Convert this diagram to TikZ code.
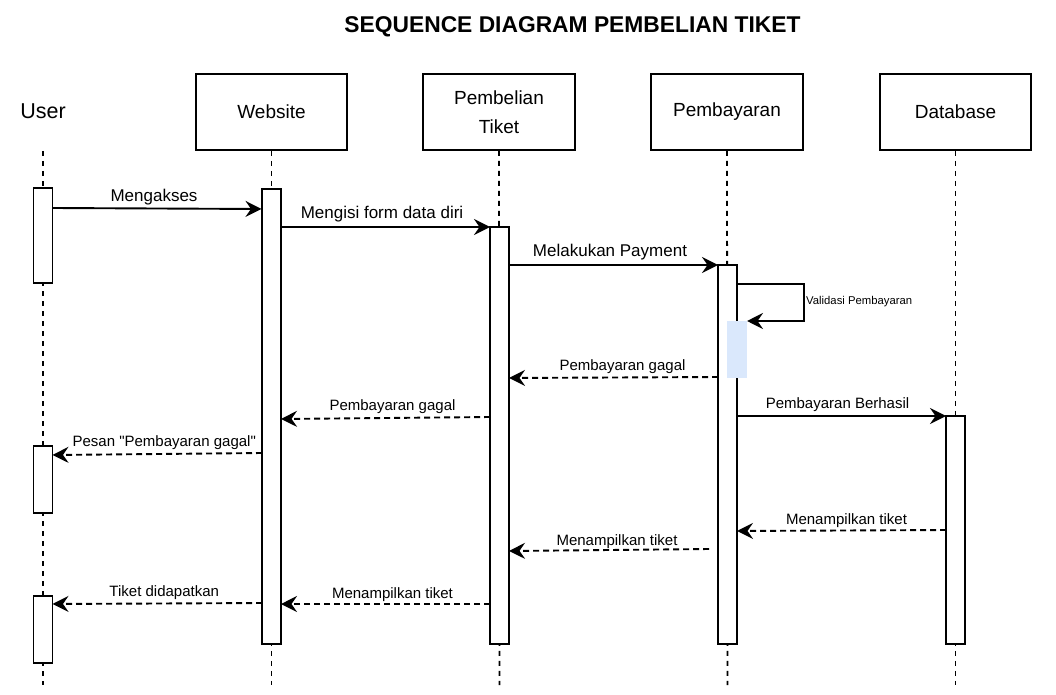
\documentclass[tikz,border=0pt]{standalone}
\usepackage{fontspec}
\setmainfont{Liberation Sans}[Ligatures=TeXOff]
\usetikzlibrary{arrows.meta}
\definecolor{actblue}{HTML}{DAE8FC}
\begin{document}
\begin{tikzpicture}[x=1pt,y=-1pt,
  head/.style={draw, line width=1.8pt, minimum width=151pt, minimum height=76pt, inner sep=0pt, align=center, font=\fontsize{19}{29}\selectfont},
  act/.style={draw, fill=white, line width=1.8pt, minimum width=19pt, inner sep=0pt},
  life/.style={line width=1.8pt, dash pattern=on 5pt off 5pt},
  msg/.style={line width=1.9pt, -{Stealth[length=16pt,width=16pt,inset=5.5pt]}},
  ret/.style={msg, dash pattern=on 6pt off 4pt},
  lblA/.style={font=\fontsize{17}{20}\selectfont, inner sep=0pt},
  lblB/.style={font=\fontsize{15}{18}\selectfont, inner sep=0pt},
  lblS/.style={font=\fontsize{11.3}{13}\selectfont, inner sep=0pt}]
\useasboundingbox (0,0) rectangle (1056,695);
% title
\node[font=\bfseries\fontsize{22.8}{26}\selectfont] (title) at (572.5,27) {SEQUENCE DIAGRAM PEMBELIAN TIKET};
% heads
\node[font=\fontsize{21.5}{26}\selectfont, inner sep=0pt] (user) at (43,111) {User};
\node[head] (web) at (271.5,112) {Website};
\node[head, minimum width=152pt] (tik) at (499,112) {Pembelian\\Tiket};
\node[head, minimum width=152pt] (pay) at (727,112) {Pembayaran};
\node[head] (db) at (955.5,112) {Database};
% lifelines
\coordinate (uTop) at (43,151); \coordinate (uBot) at (43,685);
\coordinate (wBot) at (271.5,685);
\coordinate (tBot) at (499.5,685);
\coordinate (pBot) at (727.5,685);
\coordinate (dBot) at (955.5,685);
\draw[life] (uTop) -- (uBot);
\draw[life] (web.south) -- (wBot);
\draw[life] (tik.south) -- (tBot);
\draw[life] (pay.south) -- (pBot);
\draw[life] (db.south) -- (dBot);
% activations
\node[act, minimum height=95pt] (aU1) at (43,235.5) {};
\node[act, minimum height=67pt] (aU2) at (43,479.5) {};
\node[act, minimum height=67pt] (aU3) at (43,629.5) {};
\node[act, minimum height=455pt] (aW) at (271.5,416.5) {};
\node[act, minimum height=417pt] (aT) at (499.5,435.5) {};
\node[act, minimum height=379pt] (aP) at (727.5,454.5) {};
\node[act, minimum height=228pt] (aD) at (955.5,530) {};
\node[fill=actblue, minimum width=20pt, minimum height=57pt, inner sep=0pt] (valid) at (737,349.5) {};
% self loop
\coordinate (s1) at (737.5,284);
\coordinate (s2) at (804,284);
\coordinate (s3) at (804,321);
\coordinate (s4) at (747,321);
\draw[msg] (s1) -- (s2) -- (s3) -- (s4);
\node[lblS, anchor=west] (vlbl) at (806,302) {Validasi Pembayaran};
% messages
\coordinate (m1a) at (52.5,208); \coordinate (m1b) at (261.5,209);
\draw[msg] (m1a) -- node[lblA, midway, yshift=11.5pt, xshift=-3pt] {Mengakses} (m1b);
\coordinate (m2a) at (281,227); \coordinate (m2b) at (490,227);
\draw[msg] (m2a) -- node[lblA, midway, yshift=13pt, xshift=-3.5pt] {Mengisi form data diri} (m2b);
\coordinate (m3a) at (509,265); \coordinate (m3b) at (718,265);
\draw[msg] (m3a) -- node[lblA, midway, yshift=13pt, xshift=-3.5pt] {Melakukan Payment} (m3b);
\coordinate (m4a) at (718,377); \coordinate (m4b) at (509,378);
\draw[ret] (m4a) -- node[lblB, midway, yshift=11pt, xshift=9pt] {Pembayaran gagal} (m4b);
\coordinate (m5a) at (737,416); \coordinate (m5b) at (946,416);
\draw[msg] (m5a) -- node[lblB, midway, yshift=11.5pt, xshift=-4pt] {Pembayaran Berhasil} (m5b);
\coordinate (m6a) at (490,417); \coordinate (m6b) at (281,419);
\draw[ret] (m6a) -- node[lblB, midway, yshift=11.5pt, xshift=7pt] {Pembayaran gagal} (m6b);
\coordinate (m7a) at (262,453); \coordinate (m7b) at (52.5,455);
\draw[ret] (m7a) -- node[lblB, midway, yshift=11.5pt, xshift=7pt] {Pesan "Pembayaran gagal"} (m7b);
\coordinate (m8a) at (946,530); \coordinate (m8b) at (737,531);
\draw[ret] (m8a) -- node[lblB, midway, yshift=10pt, xshift=5pt] {Menampilkan tiket} (m8b);
\coordinate (m9a) at (709,549); \coordinate (m9b) at (509,551);
\draw[ret] (m9a) -- node[lblB, midway, yshift=8.5pt, xshift=8pt] {Menampilkan tiket} (m9b);
\coordinate (m10a) at (490,604); \coordinate (m10b) at (281,604);
\draw[ret] (m10a) -- node[lblB, midway, yshift=9.5pt, xshift=7pt] {Menampilkan tiket} (m10b);
\coordinate (m11a) at (262,603); \coordinate (m11b) at (52.5,604);
\draw[ret] (m11a) -- node[lblB, midway, yshift=11pt, xshift=7pt] {Tiket didapatkan} (m11b);
\end{tikzpicture}
\end{document}
